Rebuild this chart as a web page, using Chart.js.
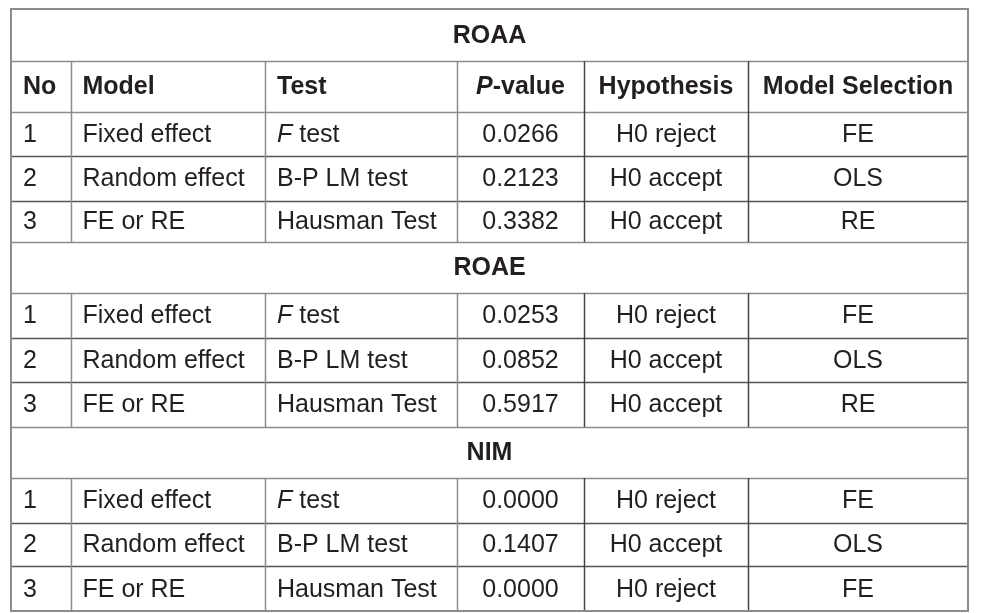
<!DOCTYPE html>
<html>
<head>
<meta charset="utf-8">
<script src="https://cdn.jsdelivr.net/npm/chart.js@4.4.1/dist/chart.umd.min.js"></script>
<style>
  body { margin: 0; background: #fff; }
  canvas { display: block; }
</style>
</head>
<body>
<canvas id="tabla" width="989" height="613"></canvas>
<script>
// Datos de la tabla
const secciones = ['ROAA', 'ROAE', 'NIM'];
const encabezados = ['No', 'Model', 'Test', '_P_-value', 'Hypothesis', 'Model Selection'];
const numeros = ['1', '2', '3'];
const modelos = ['Fixed effect', 'Random effect', 'FE or RE'];
const pruebas = ['_F_ test', 'B-P LM test', 'Hausman Test'];
const pValores = [
  [0.0266, 0.2123, 0.3382],
  [0.0253, 0.0852, 0.5917],
  [0.0000, 0.1407, 0.0000]
];
const hipotesis = [
  ['H0 reject', 'H0 accept', 'H0 accept'],
  ['H0 reject', 'H0 accept', 'H0 accept'],
  ['H0 reject', 'H0 accept', 'H0 reject']
];
const seleccion = [
  ['FE', 'OLS', 'RE'],
  ['FE', 'OLS', 'RE'],
  ['FE', 'OLS', 'FE']
];

// Geometria de la tabla (unidades de las escalas)
const bordesCol = [0, 59.5, 254, 446, 573, 737, 957];
const bordesFila = [0, 52, 103, 147, 191.5, 232.5, 283.7, 329, 372.7, 417.5, 468.7, 513.3, 557, 601.7];
const alineacion = ['left', 'left', 'left', 'center', 'center', 'center'];
const PAD = 12;

// Construir celdas como puntos
const celdas = [];
function agregarFila(fila, valores, negrita) {
  const yc = (bordesFila[fila] + bordesFila[fila + 1]) / 2;
  valores.forEach((txt, c) => {
    const x = alineacion[c] === 'left' ? bordesCol[c] + PAD : (bordesCol[c] + bordesCol[c + 1]) / 2;
    celdas.push({ x: x, y: yc, texto: txt, negrita: negrita, alinear: alineacion[c] });
  });
}

let fila = 0;
secciones.forEach((sec, s) => {
  const yc = (bordesFila[fila] + bordesFila[fila + 1]) / 2;
  celdas.push({ x: (bordesCol[0] + bordesCol[6]) / 2, y: yc, texto: sec, negrita: true, alinear: 'center', seccion: true });
  fila++;
  if (s === 0) {
    agregarFila(fila, encabezados, true);
    fila++;
  }
  for (let r = 0; r < 3; r++) {
    agregarFila(fila, [numeros[r], modelos[r], pruebas[r], pValores[s][r].toFixed(4), hipotesis[s][r], seleccion[s][r]], false);
    fila++;
  }
});

const filasSeccion = [0, 5, 9];

const pluginTabla = {
  id: 'pluginTabla',
  afterDatasetsDraw(chart) {
    const ctx = chart.ctx;
    const sx = chart.scales.x;
    const sy = chart.scales.y;
    const px = v => Math.round(sx.getPixelForValue(v));
    const py = v => Math.round(sy.getPixelForValue(v));
    ctx.save();

    // lineas horizontales
    for (let i = 1; i < bordesFila.length - 1; i++) {
      const dentro = !filasSeccion.includes(i) && !filasSeccion.includes(i - 1) && i !== 2;
      ctx.strokeStyle = dentro ? '#555' : '#8c8c8c';
      ctx.lineWidth = 1.5;
      ctx.beginPath();
      ctx.moveTo(px(bordesCol[0]), py(bordesFila[i]) + 0.5);
      ctx.lineTo(px(bordesCol[6]), py(bordesFila[i]) + 0.5);
      ctx.stroke();
    }

    // lineas verticales (solo en filas que no son de seccion)
    for (let c = 1; c < bordesCol.length - 1; c++) {
      ctx.strokeStyle = c >= 4 ? '#444' : '#8c8c8c';
      ctx.lineWidth = 1.5;
      for (let r = 0; r < bordesFila.length - 1; r++) {
        if (filasSeccion.includes(r)) continue;
        ctx.beginPath();
        ctx.moveTo(px(bordesCol[c]) + 0.5, py(bordesFila[r]));
        ctx.lineTo(px(bordesCol[c]) + 0.5, py(bordesFila[r + 1]));
        ctx.stroke();
      }
    }

    // borde exterior
    ctx.strokeStyle = '#8c8c8c';
    ctx.lineWidth = 2;
    ctx.strokeRect(px(bordesCol[0]), py(bordesFila[0]), px(bordesCol[6]) - px(bordesCol[0]), py(bordesFila[bordesFila.length - 1]) - py(bordesFila[0]));

    // textos
    const meta = chart.getDatasetMeta(0);
    ctx.fillStyle = '#231f20';
    ctx.textBaseline = 'middle';
    meta.data.forEach((el, i) => {
      const c = celdas[i];
      const partes = c.texto.split('_');
      const peso = c.negrita ? 'bold ' : '';
      const fuente = it => (it ? 'italic ' : '') + peso + '25px "Liberation Sans", Arial, sans-serif';
      let ancho = 0;
      partes.forEach((p, k) => { ctx.font = fuente(k % 2 === 1); ancho += ctx.measureText(p).width; });
      let x = c.alinear === 'center' ? el.x - ancho / 2 : el.x;
      ctx.textAlign = 'left';
      partes.forEach((p, k) => {
        ctx.font = fuente(k % 2 === 1);
        ctx.fillText(p, x, el.y + 1);
        x += ctx.measureText(p).width;
      });
    });
    ctx.restore();
  }
};

new Chart(document.getElementById('tabla'), {
  type: 'scatter',
  data: {
    datasets: [{
      data: celdas,
      pointRadius: 0,
      pointHoverRadius: 0
    }]
  },
  options: {
    responsive: false,
    animation: false,
    events: [],
    layout: { padding: { left: 11, top: 9, right: 21, bottom: 2 } },
    plugins: { legend: { display: false }, tooltip: { enabled: false } },
    scales: {
      x: { type: 'linear', display: false, min: 0, max: 957 },
      y: { type: 'linear', display: false, min: 0, max: 601.7, reverse: true }
    }
  },
  plugins: [pluginTabla]
});
</script>
</body>
</html>
